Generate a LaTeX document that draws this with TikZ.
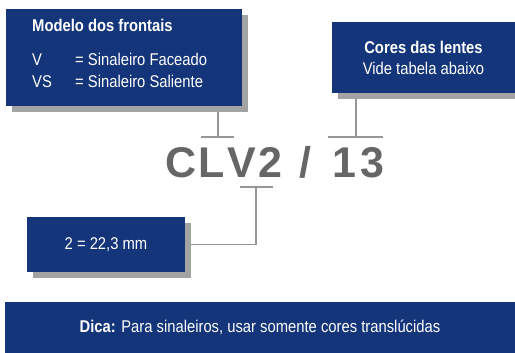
\documentclass[tikz,border=0pt]{standalone}
\usepackage{fontspec}
\setmainfont{Liberation Sans}[FakeStretch=0.87]
\newfontfamily\codigo{Liberation Sans}
\usetikzlibrary{shadows,backgrounds}
\definecolor{azul}{RGB}{20,53,122}
\definecolor{sombra}{RGB}{163,163,163}
\definecolor{linha}{RGB}{150,150,150}
\definecolor{cinza}{RGB}{102,102,102}

\begin{document}
\begin{tikzpicture}[x=1pt,y=-1pt,
  caixa/.style={fill=azul,text=white,inner sep=0pt,align=center,
    font=\fontsize{17}{21}\selectfont,
    drop shadow={shadow xshift=6pt,shadow yshift=-6pt,fill=sombra,opacity=1}},
  rotulo/.style={text=white,inner sep=0pt,anchor=base west,font=\fontsize{17}{21}\selectfont},
  fio/.style={draw=linha,line width=1.3pt}]
\useasboundingbox (0,0) rectangle (515,353);

\node[caixa,minimum width=236pt,minimum height=97pt] (modelo) at (124,57.5) {};
\node[rotulo,font=\fontsize{17}{21}\selectfont\bfseries] (titulo) at (32,32) {Modelo dos frontais};
\node[rotulo] (v) at (32,66) {V};
\node[rotulo] (vtxt) at (75,66) {= Sinaleiro Faceado};
\node[rotulo] (vs) at (32,87.5) {VS};
\node[rotulo] (vstxt) at (75,87.5) {= Sinaleiro Saliente};

\node[caixa,minimum width=183pt,minimum height=71pt] (cores) at (423.5,57.5) {\textbf{Cores das lentes}\\Vide tabela abaixo};
\node[caixa,minimum width=158pt,minimum height=55pt] (medida) at (106,244.5) {2 = 22,3 mm};
\node[caixa,minimum width=510pt,minimum height=51pt] (dica) at (260,327.5) {\textbf{Dica:} Para sinaleiros, usar somente cores transl\'ucidas};

\node[text=cinza,inner sep=0pt,anchor=base west,font=\codigo\fontsize{43}{43}\selectfont\bfseries] (clv) at (165,178) {C\kern2pt L\kern3pt V\kern2pt 2\hspace{17pt}/\hspace{21pt}1\kern5pt 3};

\coordinate (t1) at (218,137);
\coordinate (t2) at (356,137);
\coordinate (t3) at (256,187);
\begin{scope}[on background layer]
\draw[fio] (modelo.south -| t1) -- (t1);
\draw[fio] (cores.south -| t2) -- (t2);
\draw[fio] (t3) |- (medida.east);
\end{scope}
\draw[fio] ([xshift=-17pt]t1) -- ([xshift=16pt]t1);
\draw[fio] ([xshift=-28pt]t2) -- ([xshift=27pt]t2);
\draw[fio] ([xshift=-16pt]t3) -- ([xshift=17pt]t3);

\end{tikzpicture}
\end{document}
